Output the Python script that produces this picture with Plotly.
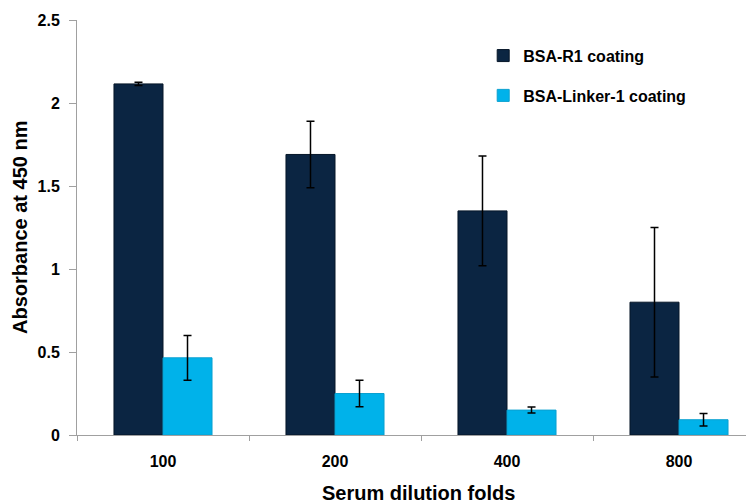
import plotly.graph_objects as go

categories = ["100", "200", "400", "800"]
r1_values = [2.115, 1.69, 1.35, 0.80]
r1_errors = [0.01, 0.20, 0.33, 0.45]
linker_values = [0.465, 0.25, 0.15, 0.092]
linker_errors = [0.135, 0.08, 0.018, 0.038]
series_names = ["BSA-R1 coating", "BSA-Linker-1 coating"]
x_title = "Serum dilution folds"
y_title = "Absorbance at 450 nm"

fig = go.Figure()
fig.add_trace(go.Bar(
    x=categories, y=r1_values, name=series_names[0], legendgroup="a",
    marker=dict(color="#0b2542", line=dict(color="#061628", width=1)),
    error_y=dict(type="data", array=r1_errors, color="black", thickness=1.5, width=4),
))
fig.add_trace(go.Bar(
    x=categories, y=linker_values, name=series_names[1], legendgroup="b",
    marker=dict(color="#00b2ea", line=dict(color="#0aa0d0", width=1)),
    error_y=dict(type="data", array=linker_errors, color="black", thickness=1.5, width=4),
))

font_fam = "Liberation Sans, Arial, sans-serif"
fig.update_layout(
    width=746, height=495,
    margin=dict(l=69, r=0, t=12, b=68, autoexpand=False),
    paper_bgcolor="white", plot_bgcolor="white",
    barmode="group", bargap=0.43, bargroupgap=0,
    font=dict(family=font_fam, size=16, color="black"),
    legend=dict(x=0.60, y=0.955, xanchor="left", yanchor="top",
                font=dict(size=16, color="black", family=font_fam, weight="bold"),
                tracegroupgap=16, itemwidth=30, bgcolor="rgba(0,0,0,0)"),
    xaxis=dict(
        range=[-0.5, 3.436], type="category", automargin=False,
        showline=True, linecolor="#a0a0a0", linewidth=1,
        ticks="outside", tickson="boundaries", ticklen=5, tickcolor="#a0a0a0",
        ticklabelstandoff=12,
        tickfont=dict(size=16, family=font_fam, weight="bold"),
        showgrid=False, zeroline=False,
    ),
    yaxis=dict(
        range=[0, 2.5], dtick=0.5, tick0=0, automargin=False,
        showline=True, linecolor="#a0a0a0", linewidth=1,
        ticks="outside", ticklen=7, tickcolor="#a0a0a0",
        ticklabelstandoff=6,
        tickfont=dict(size=16, family=font_fam, weight="bold"),
        showgrid=False, zeroline=False,
    ),
    annotations=[
        dict(text="<b>" + x_title + "</b>", xref="paper", yref="paper",
             x=0.505, y=-0.14, yanchor="middle", xanchor="center", showarrow=False,
             font=dict(size=20, family=font_fam, color="black")),
        dict(text="<b>" + y_title + "</b>", xref="paper", yref="paper",
             x=-0.085, y=0.5, xanchor="center", yanchor="middle", showarrow=False,
             textangle=-90, font=dict(size=20, family=font_fam, color="black")),
    ],
)

fig.write_html("out.html")
